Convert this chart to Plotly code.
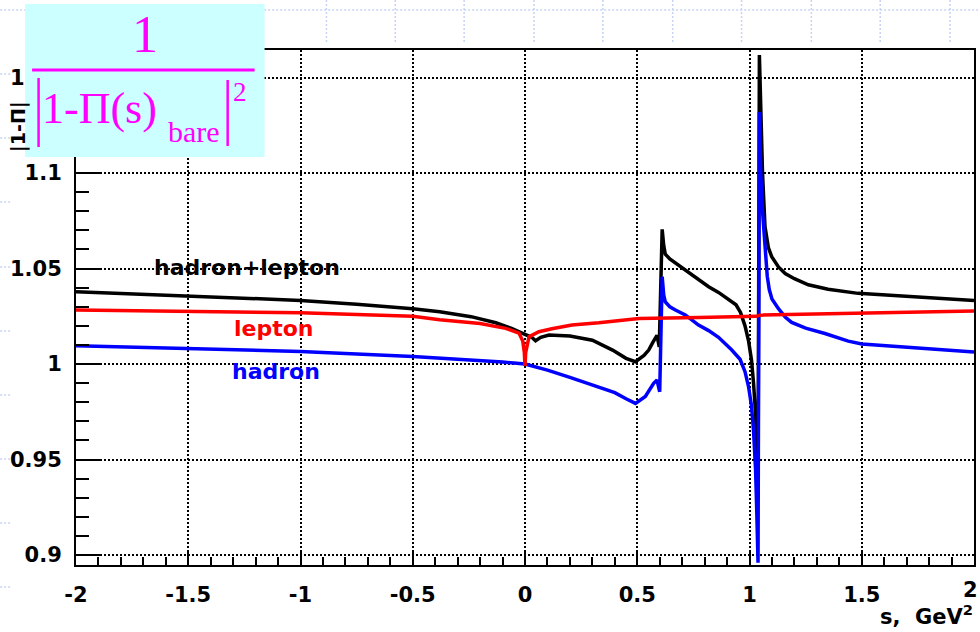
import plotly.graph_objects as go

# ---------------- data ----------------
s_hadlep = [-2.0, -1.75, -1.5, -1.25, -1.0, -0.75, -0.5, -0.38, -0.24, -0.13, -0.06, -0.013,
            0.0, 0.03, 0.047, 0.07, 0.107, 0.2, 0.3, 0.39, 0.45, 0.492, 0.53, 0.551, 0.57,
            0.588, 0.598, 0.611, 0.618, 0.625, 0.645, 0.662, 0.714, 0.773, 0.818, 0.862,
            0.907, 0.94, 0.96, 0.98, 0.996, 1.009, 1.018, 1.027, 1.033, 1.038, 1.044, 1.050,
            1.058, 1.069, 1.084, 1.099, 1.129, 1.159, 1.2, 1.262, 1.35, 1.484, 1.6, 1.75,
            1.9, 2.0]
v_hadlep = [1.0379, 1.0368, 1.0357, 1.0345, 1.0333, 1.0313, 1.0290, 1.0274, 1.0248, 1.0216,
            1.0187, 1.0162, 1.0155, 1.0140, 1.0122, 1.0140, 1.0152, 1.0147, 1.0125, 1.0073,
            1.0030, 1.0012, 1.0045, 1.0073, 1.0115, 1.0150, 1.0090, 1.0705, 1.0620, 1.0575,
            1.0550, 1.0536, 1.0492, 1.0440, 1.0405, 1.0375, 1.0340, 1.0310, 1.0270, 1.0200,
            1.0120, 1.0020, 0.9900, 0.9740, 0.9500, 0.9300, 1.1618, 1.1280, 1.1000, 1.0720,
            1.0610, 1.0562, 1.0508, 1.0474, 1.0447, 1.0415, 1.0392, 1.0370, 1.0362, 1.0352,
            1.0342, 1.0333]

s_lepton = [-2.0, -1.5, -1.0, -0.5, -0.38, -0.2, -0.086, -0.027, -0.01, -0.003, 0.0, 0.003,
            0.01, 0.018, 0.03, 0.062, 0.12, 0.209, 0.329, 0.507, 0.773, 1.0, 1.03, 1.045,
            1.2, 1.5, 1.75, 2.0]
v_lepton = [1.0283, 1.0277, 1.0268, 1.0250, 1.0232, 1.0212, 1.0187, 1.0162, 1.0120, 1.0060,
            0.9990, 1.0060, 1.0110, 1.0143, 1.0150, 1.0169, 1.0185, 1.0204, 1.0216, 1.0239,
            1.0244, 1.0249, 1.0250, 1.0256, 1.0260, 1.0268, 1.0273, 1.0278]

s_hadron = [-2.0, -1.5, -1.0, -0.5, -0.25, -0.1, 0.0, 0.1, 0.2, 0.3, 0.4, 0.45, 0.492, 0.536,
            0.573, 0.588, 0.600, 0.611, 0.618, 0.625, 0.645, 0.67, 0.714, 0.773, 0.818,
            0.862, 0.92, 0.958, 0.98, 0.996, 1.009, 1.018, 1.027, 1.033, 1.038, 1.044,
            1.050, 1.058, 1.065, 1.072, 1.079, 1.088, 1.1, 1.129, 1.16, 1.188, 1.25, 1.336,
            1.44, 1.5, 1.75, 2.0]
v_hadron = [1.0096, 1.0082, 1.0066, 1.0040, 1.0024, 1.0011, 1.0000, 0.9968, 0.9930, 0.9892,
            0.9850, 0.9818, 0.9794, 0.9830, 0.9899, 0.9916, 0.9855, 1.0457, 1.0360, 1.0325,
            1.0300, 1.0283, 1.0257, 1.0204, 1.0175, 1.0140, 1.0075, 1.0025, 0.9960, 0.9880,
            0.9780, 0.9650, 0.9450, 0.9200, 0.8960, 1.1320, 1.1000, 1.0800, 1.0680, 1.0560,
            1.0460, 1.0390, 1.0340, 1.0290, 1.0245, 1.0218, 1.0188, 1.0160, 1.0120, 1.0105,
            1.0085, 1.0063]

x_tickvals = [-2, -1.5, -1, -0.5, 0, 0.5, 1, 1.5, 2]
x_ticktext = ["-2", "-1.5", "-1", "-0.5", "0", "0.5", "1", "1.5", "2"]
y_tickvals = [0.9, 0.95, 1.0, 1.05, 1.1, 1.15]
y_ticktext = ["0.9", "0.95", "1", "1.05", "1.1", "1.15"]

# ---------------- figure ----------------
W, H = 980, 632
ML, MR, MT, MB = 76, 4, 50, 67
PW, PH = W - ML - MR, H - MT - MB


def pxx(x):
    return (x - ML) / PW


def pxy(y):
    return (H - MB - y) / PH


fig = go.Figure()
fig.add_trace(go.Scatter(x=s_hadlep, y=v_hadlep, mode="lines",
                         line=dict(color="#000000", width=3.5), name="hadron+lepton"))
fig.add_trace(go.Scatter(x=s_hadron, y=v_hadron, mode="lines",
                         line=dict(color="#0000ff", width=3.5), name="hadron"))
fig.add_trace(go.Scatter(x=s_lepton, y=v_lepton, mode="lines",
                         line=dict(color="#ff0000", width=3.5), name="lepton"))

tickfont = dict(family="DejaVu Sans", size=21, color="black", weight="bold")

# the last x label sits at the page edge; it is drawn separately below
x_ticktext_axis = x_ticktext[:-1] + [""]

fig.update_xaxes(range=[-2, 2], tickmode="array", tickvals=x_tickvals, ticktext=x_ticktext_axis,
                 ticks="inside", ticklen=15, tickwidth=1.5, tickcolor="black",
                 showline=True, linecolor="black", linewidth=2, mirror=True,
                 showgrid=True, gridcolor="#000000", gridwidth=1.5, griddash="1.5px,2.5px",
                 zeroline=False, tickfont=tickfont, ticklabelstandoff=10,
                 minor=dict(tick0=-2, dtick=0.1, ticks="inside", ticklen=8, tickwidth=1.5,
                            tickcolor="black", showgrid=False))
fig.update_yaxes(range=[0.8948, 1.1644], tickmode="array", tickvals=y_tickvals,
                 ticktext=y_ticktext,
                 ticks="inside", ticklen=24, tickwidth=1.5, tickcolor="black",
                 showline=True, linecolor="black", linewidth=2, mirror=True,
                 showgrid=True, gridcolor="#000000", gridwidth=1.5, griddash="1.5px,2.5px",
                 zeroline=False, tickfont=tickfont, ticklabelstandoff=8,
                 minor=dict(tick0=0.9, dtick=0.01, ticks="inside", ticklen=13, tickwidth=1.5,
                            tickcolor="black", showgrid=False))

shapes = []
grid_blue = "#c5d3f5"
# slide background grid (outside the chart picture)
shapes.append(dict(type="line", xref="paper", yref="paper", x0=pxx(0), x1=pxx(980),
                   y0=pxy(10), y1=pxy(10), line=dict(color=grid_blue, width=1.5, dash="2px,2px"),
                   layer="above"))
for gy in [74, 138, 202, 267, 331, 395, 459, 523, 587]:
    shapes.append(dict(type="line", xref="paper", yref="paper", x0=pxx(0), x1=pxx(12),
                       y0=pxy(gy), y1=pxy(gy),
                       line=dict(color=grid_blue, width=1.5, dash="2px,2px"), layer="above"))
for gx in [327, 396, 465, 535, 604, 674, 743, 813, 882, 952]:
    shapes.append(dict(type="line", xref="paper", yref="paper", x0=pxx(gx), x1=pxx(gx),
                       y0=pxy(0), y1=pxy(43),
                       line=dict(color=grid_blue, width=1.5, dash="2px,2px"), layer="above"))

# cyan formula box
shapes.append(dict(type="rect", xref="paper", yref="paper", x0=pxx(25), x1=pxx(265),
                   y0=pxy(157), y1=pxy(4), fillcolor="#ccffff", line=dict(width=0),
                   layer="above"))
mag = "#ff00ff"
# fraction bar
shapes.append(dict(type="line", xref="paper", yref="paper", x0=pxx(32), x1=pxx(255),
                   y0=pxy(70), y1=pxy(70), line=dict(color=mag, width=3), layer="above"))
# absolute-value bars
shapes.append(dict(type="line", xref="paper", yref="paper", x0=pxx(38.5), x1=pxx(38.5),
                   y0=pxy(147), y1=pxy(78), line=dict(color=mag, width=2.5), layer="above"))
shapes.append(dict(type="line", xref="paper", yref="paper", x0=pxx(228), x1=pxx(228),
                   y0=pxy(146), y1=pxy(80), line=dict(color=mag, width=2.5), layer="above"))

annotations = []


def ann(text, x, y, size, color="black", family="DejaVu Sans", weight="bold",
        xanchor="center", angle=0):
    annotations.append(dict(text=text, x=pxx(x), y=pxy(y), xref="paper", yref="paper",
                            showarrow=False, xanchor=xanchor, yanchor="middle",
                            textangle=angle,
                            font=dict(family=family, size=size, color=color, weight=weight)))


# y-axis title (mostly hidden in the original)
ann("|1-Π|", 18, 127, 19, angle=-90)

serif = "Liberation Serif"
ann("1", 145, 34.5, 52, color=mag, family=serif, weight="normal")
ann("1-Π(s)", 100, 109, 44, color=mag, family=serif, weight="normal")
ann("bare", 194, 131, 30, color=mag, family=serif, weight="normal")
ann("2", 240, 91.5, 27, color=mag, family=serif, weight="normal")

# last x tick label at the right edge
ann(x_ticktext[-1], 972, 590, 21, color="black")

# curve labels
ann("hadron+lepton", 247, 267, 22, color="black")
ann("lepton", 274, 328, 22, color="#ff0000")
ann("hadron", 276, 371, 22, color="#0000ff")

# x-axis title
ann("s,\u00a0\u00a0GeV<sup>2</sup>", 977, 615, 21, color="black", xanchor="right")

fig.update_layout(width=W, height=H, margin=dict(l=ML, r=MR, t=MT, b=MB),
                  paper_bgcolor="white", plot_bgcolor="white", showlegend=False,
                  shapes=shapes, annotations=annotations)

fig.write_html("out.html", config={"displayModeBar": False},
               post_script="document.body.style.margin='0';document.body.style.overflow='hidden';")
